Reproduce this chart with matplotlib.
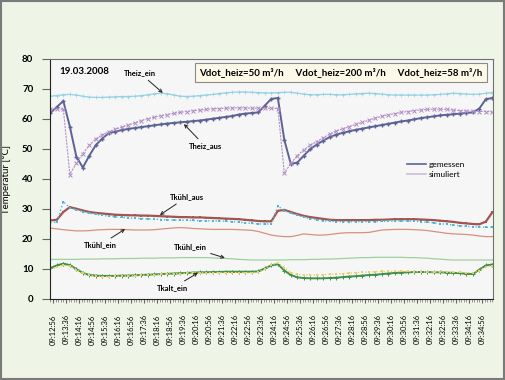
import numpy as np
import matplotlib
matplotlib.use('Agg')
from matplotlib import pyplot as plt
from matplotlib.patches import Rectangle

plt.rcParams['font.family'] = ['Lato', 'DejaVu Sans']

# sample times, seconds after 09:12:56
t = np.arange(-8, 1353, 20)

theiz_aus_mess = [62, 64, 66, 57.5, 47.5, 43.8, 47.8, 51.3, 53.5, 55.3,
                  55.8, 56.3, 56.7, 57, 57.3, 57.6, 57.9, 58.2, 58.5, 58.7,
                  58.9, 59.1, 59.3, 59.5, 59.8, 60.1, 60.4, 60.7, 61, 61.5,
                  61.8, 62, 62.2, 64.5, 66.7, 67, 53, 45, 45.5, 47.8,
                  50, 51.5, 52.8, 54, 54.8, 55.4, 55.9, 56.4, 56.8, 57.2,
                  57.6, 58, 58.4, 58.8, 59.2, 59.5, 59.9, 60.3, 60.6, 60.9,
                  61.2, 61.4, 61.6, 61.8, 62, 62.2, 63.5, 66.6, 67]
theiz_aus_sim = [63.2, 63.3, 63.3, 41.5, 45.2, 48.5, 51.2, 53.4, 54.8, 55.8,
                 56.6, 57.3, 58, 58.7, 59.5, 60.1, 60.6, 61.1, 61.5, 61.9,
                 62.2, 62.5, 62.8, 63, 63.2, 63.4, 63.5, 63.6, 63.7, 63.7,
                 63.7, 63.6, 63.6, 63.6, 63.6, 63.5, 42, 45.2, 47.8, 49.8,
                 51.3, 52.5, 53.8, 55, 56, 56.8, 57.5, 58.2, 58.9, 59.6,
                 60.3, 60.9, 61.4, 61.8, 62.2, 62.5, 62.8, 63, 63.2, 63.3,
                 63.3, 63.2, 63, 62.8, 62.7, 62.6, 62.5, 62.5, 62.4]
theiz_ein = [67.6, 67.8, 68.1, 68.2, 68, 67.6, 67.3, 67.2, 67.2, 67.3,
             67.4, 67.5, 67.5, 67.6, 67.8, 68.1, 68.4, 68.6, 68.4, 68,
             67.6, 67.5, 67.6, 67.8, 68, 68.2, 68.5, 68.7, 68.9, 69,
             69, 68.9, 68.8, 68.7, 68.7, 68.8, 68.9, 68.9, 68.6, 68.3,
             68.1, 68.1, 68.2, 68.2, 68.1, 68.1, 68.2, 68.4, 68.5, 68.6,
             68.5, 68.3, 68.1, 68, 68, 68, 68, 68, 68, 68.1,
             68.2, 68.4, 68.6, 68.5, 68.3, 68.2, 68.3, 68.6, 68.8]
tkuehl_aus_mess = [26.2, 26.4, 29, 30.6, 30.1, 29.5, 29, 28.7, 28.5, 28.3,
                   28.1, 28, 27.9, 27.9, 27.8, 27.8, 27.7, 27.6, 27.5, 27.4,
                   27.3, 27.3, 27.2, 27.2, 27.1, 27, 26.9, 26.8, 26.7, 26.6,
                   26.4, 26.2, 26, 25.9, 25.9, 29.4, 29.7, 29, 28.3, 27.7,
                   27.3, 27, 26.7, 26.4, 26.3, 26.3, 26.3, 26.3, 26.3, 26.3,
                   26.4, 26.4, 26.5, 26.6, 26.6, 26.6, 26.6, 26.5, 26.4, 26.3,
                   26.1, 25.9, 25.7, 25.4, 25.2, 25, 24.9, 25.8, 28.9]
tkuehl_aus_sim = [25.5, 25.6, 32.5, 30.4, 29.8, 29.1, 28.6, 28.2, 27.9, 27.6,
                  27.4, 27.2, 27, 26.9, 26.8, 26.7, 26.6, 26.5, 26.4, 26.3,
                  26.3, 26.2, 26.2, 26.1, 26.1, 26, 26, 25.9, 25.8, 25.6,
                  25.4, 25.2, 25, 25, 25, 31, 29.5, 28.6, 27.9, 27.3,
                  26.8, 26.4, 26.1, 25.9, 25.8, 25.8, 25.8, 25.8, 25.8, 25.8,
                  25.8, 25.9, 25.9, 26, 26, 26, 25.9, 25.8, 25.6, 25.4,
                  25.1, 24.9, 24.6, 24.4, 24.2, 24.1, 24, 23.9, 23.9]
tkuehl_ein_1 = [23.6, 23.4, 23.1, 22.9, 22.7, 22.7, 22.8, 23, 23.1, 23.2,
                23.2, 23.2, 23.1, 23, 23, 23, 23.1, 23.3, 23.5, 23.7,
                23.8, 23.7, 23.5, 23.4, 23.3, 23.2, 23.2, 23.2, 23.2, 23.1,
                23, 22.9, 22.5, 21.9, 21.3, 21, 20.8, 20.8, 21.2, 21.7,
                21.5, 21.3, 21.3, 21.5, 21.8, 22, 22.1, 22.1, 22.1, 22.2,
                22.6, 23, 23.1, 23.2, 23.2, 23.2, 23.1, 23, 22.8, 22.5,
                22.2, 21.9, 21.7, 21.6, 21.5, 21.3, 21, 20.8, 20.8]
tkuehl_ein_2 = [13.2, 13.2, 13.2, 13.2, 13.2, 13.3, 13.3, 13.3, 13.4, 13.4,
                13.4, 13.5, 13.5, 13.5, 13.6, 13.6, 13.6, 13.7, 13.7, 13.7,
                13.8, 13.8, 13.8, 13.8, 13.8, 13.7, 13.6, 13.5, 13.4, 13.2,
                13.1, 13, 13, 13, 13, 13, 13, 13.1, 13.1, 13.1,
                13.2, 13.2, 13.3, 13.3, 13.4, 13.5, 13.6, 13.7, 13.8, 13.8,
                13.9, 13.9, 13.9, 13.9, 13.9, 13.8, 13.8, 13.7, 13.6, 13.4,
                13.3, 13.1, 13, 13, 13, 13, 13, 13, 13]
tkalt_ein_mess = [10.3, 11.2, 11.8, 11.3, 10, 8.7, 8, 7.8, 7.7, 7.7,
                  7.7, 7.8, 7.8, 7.9, 8, 8.1, 8.2, 8.3, 8.4, 8.5,
                  8.6, 8.7, 8.8, 8.9, 8.9, 9, 9, 9.1, 9.1, 9.1,
                  9.1, 9.1, 9.2, 10.2, 11.2, 11.6, 9.5, 8, 7.2, 7,
                  6.9, 6.9, 6.9, 7, 7.1, 7.3, 7.5, 7.6, 7.8, 8,
                  8.1, 8.3, 8.5, 8.7, 8.8, 8.9, 9, 9, 9, 8.9,
                  8.9, 8.8, 8.7, 8.6, 8.4, 8.3, 9.8, 11.2, 11.5]
tkalt_ein_sim = [9.8, 10.6, 11.2, 11, 9.8, 8.6, 7.9, 7.6, 7.5, 7.5,
                 7.6, 7.6, 7.7, 7.8, 7.9, 8, 8.1, 8.2, 8.3, 8.4,
                 8.5, 8.6, 8.7, 8.7, 8.8, 8.8, 8.8, 8.8, 8.8, 8.8,
                 8.8, 8.8, 8.9, 10, 11.4, 12.1, 10.5, 8.8, 8.2, 8,
                 8, 8, 8.1, 8.2, 8.3, 8.5, 8.6, 8.8, 8.9, 9,
                 9.1, 9.2, 9.2, 9.2, 9.2, 9.2, 9.1, 9.1, 9, 9,
                 9, 9, 8.9, 8.9, 8.8, 8.8, 9.5, 10.8, 11]

tick_pos = np.arange(0, 1321, 40)
tick_labels = ['09:12:56', '09:13:36', '09:14:16', '09:14:56', '09:15:36', '09:16:16',
               '09:16:56', '09:17:36', '09:18:16', '09:18:56', '09:19:36', '09:20:16',
               '09:20:56', '09:21:36', '09:22:16', '09:22:56', '09:23:36', '09:24:16',
               '09:24:56', '09:25:36', '09:26:16', '09:26:56', '09:27:36', '09:28:16',
               '09:28:56', '09:29:36', '09:30:16', '09:30:56', '09:31:36', '09:32:16',
               '09:32:56', '09:33:36', '09:34:16', '09:34:56']

fig = plt.figure(figsize=(5.06, 3.8), dpi=100)
fig.patch.set_facecolor('#eef5e6')
fig.add_artist(Rectangle((0.002, 0.003), 0.995, 0.994, transform=fig.transFigure,
                         fill=False, edgecolor='#7a7a7a', linewidth=1.5))
ax = fig.add_axes([50 / 506, 1 - 299 / 380, 443 / 506, 240 / 380])
ax.set_facecolor('#f6f6f6')

ax.plot(t, tkuehl_ein_1, color='#d8907e', lw=0.9)
ax.plot(t, tkuehl_ein_2, color='#9fd09c', lw=0.9)
ax.plot(t, theiz_ein, color='#94d2e3', lw=0.9, marker='+', ms=2.3, mew=0.5)
ax.plot(t, tkuehl_aus_mess, color='#a4544f', lw=1.6, marker='s', ms=1.8, mew=0)
ax.plot(t, tkuehl_aus_sim, color='#4bb7d3', lw=1.0, ls=':', marker='s', ms=1.8, mew=0)
ax.plot(t, tkalt_ein_mess, color='#3f9049', lw=1.4, marker='+', ms=2.5, mew=0.7)
ax.plot(t, tkalt_ein_sim, color='#e6cf6c', lw=1.0, ls=':', marker='s', ms=1.8, mew=0)
ax.plot(t, theiz_aus_mess, color='#5c6295', lw=1.4, marker='+', ms=3, mew=1.0,
        label='gemessen')
ax.plot(t, theiz_aus_sim, color='#b08ec4', lw=0.8, ls=(0, (2, 1)), marker='x',
        ms=2.5, mew=0.7, label='simuliert')

ax.set_xlim(-9, 1354)
ax.set_ylim(0, 80)
ax.set_yticks(np.arange(0, 81, 10))
ax.set_xticks(tick_pos)
ax.set_xticklabels(tick_labels, rotation=90, fontsize=5.5)
ax.set_xticks(np.arange(-8, 1354, 8), minor=True)
ax.tick_params(axis='y', labelsize=7, length=6, color='#666666', pad=6)
ax.tick_params(axis='x', which='major', length=3, color='#666666', pad=8)
ax.tick_params(axis='x', which='minor', length=2.5, color='#888888', width=0.6)
for lab in ax.get_yticklabels():
    lab.set_fontweight('bold')
for side in ['top', 'right']:
    ax.spines[side].set_color('#707070')
for side in ['left', 'bottom']:
    ax.spines[side].set_color('#222222')
ax.set_ylabel('Temperatur [°C]', fontsize=7, labelpad=8)

leg = ax.legend(loc='upper left', bbox_to_anchor=(0.79, 0.605), frameon=False,
                fontsize=6, handlelength=2.2, handletextpad=0.4, labelspacing=0.3)
leg.get_lines()[1].set_color('#cdbcdc')
for ln in leg.get_lines():
    ln.set_marker('')
    ln.set_linestyle('-')
    ln.set_linewidth(1.2)

ax.text(95, 75.7, '19.03.2008', fontsize=7, fontweight='bold', ha='center', va='center')
ax.text(886, 75.5, 'Vdot_heiz=50 m³/h     Vdot_heiz=200 m³/h     Vdot_heiz=58 m³/h',
        fontsize=7, fontweight='bold', ha='center', va='center',
        bbox=dict(boxstyle='square,pad=0.45', facecolor='#fcf9e8', edgecolor='#8a8a8a', lw=0.8))

arrow = dict(arrowstyle='->', color='#222222', lw=0.7, shrinkA=1, shrinkB=0)
notes = [('Theiz_ein', (268, 75.3), (338, 68.7)),
         ('Theiz_aus', (468, 51), (403, 58.3)),
         ('Tkühl_aus', (412, 34), (329, 28)),
         ('Tkühl_ein', (145, 18), (222, 23.3)),
         ('Tkühl_ein', (422, 17.3), (529, 13.7)),
         ('Tkalt_ein', (369, 3.7), (446, 8.7))]
for txt, pos, head in notes:
    ax.annotate(txt, xy=head, xytext=pos, fontsize=5.5, fontweight='bold',
                ha='center', va='center', arrowprops=arrow)

fig.savefig('out.png', dpi=100, facecolor=fig.get_facecolor())
